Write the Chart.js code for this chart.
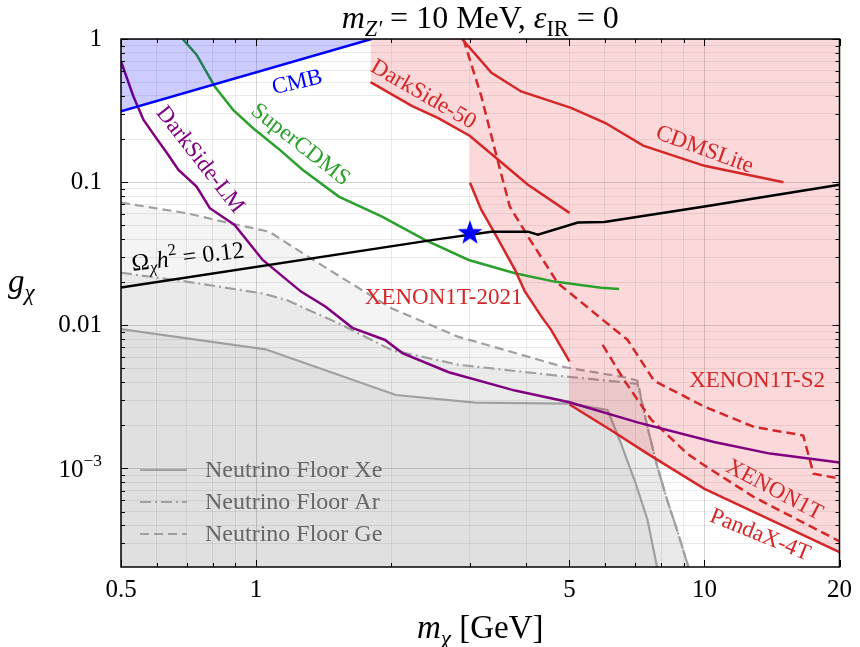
<!DOCTYPE html>
<html>
<head>
<meta charset="utf-8">
<script src="https://cdn.jsdelivr.net/npm/chart.js@4.4.1/dist/chart.umd.min.js"></script>
<style>
  body { margin: 0; background: #fff; }
  #wrap { width: 860px; height: 647px; }
</style>
</head>
<body>
<div id="wrap"><canvas id="chart" width="860" height="647"></canvas></div>
<script>
// curves: [m_chi in GeV, g_chi]
const cmb = [[0.5, 0.312], [1.81, 1]];
const darkSide50 = [[1.8, 0.5], [2.23, 0.34], [2.55, 0.28], [3.0, 0.21], [3.41, 0.15], [4.04, 0.096], [5.0, 0.061]];
const cdmsLite = [[2.88, 1], [3.35, 0.58], [3.9, 0.43], [5.04, 0.33], [6.0, 0.26], [7.3, 0.18], [10, 0.13], [15, 0.1]];
const xenon1t2021 = [[3.0, 0.099], [3.18, 0.064], [3.44, 0.0417], [3.78, 0.0244], [3.97, 0.0174], [4.33, 0.0115], [4.55, 0.0093], [5.0, 0.0056]];
const pandax4t = [[5.0, 0.0028], [6.19, 0.00185], [7.46, 0.00127], [10, 0.00072], [20, 0.00026]];
const xenon1tS2 = [[2.9, 1], [3.18, 0.397], [3.44, 0.151], [3.68, 0.0675], [4.04, 0.0417], [4.71, 0.0197], [6.19, 0.0098], [6.74, 0.0079], [7.72, 0.0041], [10, 0.0027], [12.9, 0.00195], [16.6, 0.0017], [17.5, 0.00092], [20, 0.00085]];
const xenon1t = [[5.93, 0.0073], [6.6, 0.0042], [7.6, 0.0022], [9.15, 0.00127], [10, 0.00105], [12.9, 0.00063], [20, 0.00031]];
const superCDMS = [[0.686, 1], [0.737, 0.777], [0.809, 0.466], [0.889, 0.32], [0.984, 0.239], [1.13, 0.168], [1.27, 0.122], [1.53, 0.0793], [1.91, 0.0575], [2.38, 0.0395], [2.98, 0.0286], [3.78, 0.0231], [4.63, 0.0202], [5.88, 0.0183], [6.45, 0.0179]];
const darkSideLM = [[0.5, 0.697], [0.533, 0.397], [0.561, 0.273], [0.596, 0.208], [0.633, 0.16], [0.671, 0.122], [0.737, 0.0932], [0.789, 0.0658], [0.896, 0.0503], [1.035, 0.0286], [1.26, 0.0172], [1.43, 0.0135], [1.64, 0.0096], [1.94, 0.0079], [2.12, 0.0064], [2.69, 0.0047], [3.78, 0.0035], [5, 0.0029], [7.09, 0.0021], [10.5, 0.00153], [14, 0.00127], [20, 0.0011]];
const relic = [[0.5, 0.0184], [2.55, 0.04], [3.35, 0.0451], [4.04, 0.0451], [4.25, 0.043], [5.22, 0.0522], [5.98, 0.0526], [10, 0.0675], [20, 0.0958]];
const benchmark = [[3.0, 0.044]];
const floorXe = [[0.5, 0.0094], [1.05, 0.0068], [2.05, 0.00326], [3.08, 0.00288], [5, 0.00284], [6.08, 0.00256], [6.51, 0.0015], [7.02, 0.00079], [7.46, 0.00044], [7.85, 0.0002]];
const floorAr = [[0.5, 0.0233], [0.7, 0.0202], [1.035, 0.0167], [1.17, 0.015], [1.53, 0.0103], [2.01, 0.0067], [2.83, 0.0053], [4.87, 0.0044], [6.6, 0.004], [7.09, 0.0039], [7.46, 0.00195], [7.85, 0.00103], [8.26, 0.0006], [8.69, 0.00037], [9.23, 0.0002]];
const floorGe = [[0.5, 0.072], [0.7, 0.0607], [0.873, 0.0517], [1.07, 0.0451], [1.27, 0.0319], [1.585, 0.0207], [2.01, 0.0131], [2.83, 0.0083], [3.18, 0.0075], [4.87, 0.0051], [6.74, 0.0043], [7.09, 0.0041], [7.46, 0.00195], [7.85, 0.00103], [8.26, 0.0006], [8.69, 0.00037], [9.23, 0.0002]];

const xTickLabels = [0.5, 1, 5, 10, 20];
const yTickLabels = [1, 0.1, 0.01, 0.001];

// excluded region (pink) = above DarkSide-50 up to 3 GeV, then XENON1T-2021 and PandaX-4T
const pinkEdge = darkSide50.filter(p => p[0] <= 3).concat(xenon1t2021, pandax4t);

const serif = '"Liberation Serif", "Times New Roman", serif';
const RED = '#d62728', GREEN = '#2ca02c', PURPLE = '#800080', BLUE = '#0000ff', GREY = 'rgb(160,160,160)';

const xy = arr => arr.map(([x, y]) => ({ x, y }));
const near = (a, b) => Math.abs(a / b - 1) < 1e-6;
const isDecade = v => Math.abs(Math.log10(v) - Math.round(Math.log10(v))) < 1e-6;

function logTicks(min, max) {
  const out = [];
  for (let k = Math.floor(Math.log10(min)); k <= Math.ceil(Math.log10(max)); k++) {
    for (let m = 1; m <= 9; m++) {
      const v = Number((m * Math.pow(10, k)).toPrecision(6));
      if (v >= min * 0.9999 && v <= max * 1.0001) out.push(v);
    }
  }
  return out;
}

function starImage(r, color) {
  const c = document.createElement('canvas');
  c.width = c.height = 2 * r + 2;
  const g = c.getContext('2d');
  g.beginPath();
  for (let i = 0; i < 10; i++) {
    const a = -Math.PI / 2 + i * Math.PI / 5;
    const rr = i % 2 ? r * 0.4 : r;
    g.lineTo(r + 1 + rr * Math.cos(a), r + 1 + rr * Math.sin(a));
  }
  g.closePath();
  g.fillStyle = color;
  g.fill();
  return c;
}

// text with italic / sub / superscript runs
function drawRich(g, parts, x, y, size, align) {
  const runs = parts.map(([t, st]) => {
    const italic = st.indexOf('i') === 0;
    const sub = st.indexOf('sub') >= 0, sup = st.indexOf('sup') >= 0;
    const fs = (sub || sup) ? size * 0.7 : size;
    const font = (italic ? 'italic ' : '') + fs + 'px ' + serif;
    g.font = font;
    return { t, font, w: g.measureText(t).width, dy: sub ? size * 0.25 : sup ? -size * 0.38 : 0 };
  });
  const total = runs.reduce((s, r) => s + r.w, 0);
  let cx = align === 'center' ? x - total / 2 : align === 'right' ? x - total : x;
  g.textAlign = 'left';
  runs.forEach(r => { g.font = r.font; g.fillText(r.t, cx, y + r.dy); cx += r.w; });
}

const curveLabels = [
  { parts: [['CMB', '']], x: 1.236, y: 0.495, angle: -13, color: BLUE },
  { parts: [['DarkSide-LM', '']], x: 0.75, y: 0.143, angle: 52, color: PURPLE },
  { parts: [['SuperCDMS', '']], x: 1.255, y: 0.182, angle: 38, color: GREEN },
  { parts: [['DarkSide-50', '']], x: 2.36, y: 0.408, angle: 30, color: RED },
  { parts: [['CDMSLite', '']], x: 10, y: 0.168, angle: 20, color: RED },
  { parts: [['XENON1T-2021', '']], x: 2.62, y: 0.0155, angle: 0, color: RED },
  { parts: [['XENON1T-S2', '']], x: 13.1, y: 0.0041, angle: 0, color: RED },
  { parts: [['XENON1T', '']], x: 14.3, y: 0.000705, angle: 28, color: RED },
  { parts: [['PandaX-4T', '']], x: 13.3, y: 0.000342, angle: 22, color: RED },
  { parts: [['\u03a9', ''], ['\u03c7', 'isub'], ['h', 'i'], ['2', 'sup'], [' = 0.12', '']], x: 0.705, y: 0.0296, angle: -7, color: '#000', size: 24 }
];

const legendRows = ['floorXe', 'floorAr', 'floorGe'];
const legendText = { floorXe: 'Neutrino Floor Xe', floorAr: 'Neutrino Floor Ar', floorGe: 'Neutrino Floor Ge' };

const decor = {
  id: 'decor',
  afterDraw(chart) {
    const g = chart.ctx, a = chart.chartArea;
    const xs = chart.scales.x, ys = chart.scales.y;
    g.save();

    // curve labels
    g.textBaseline = 'middle';
    curveLabels.forEach(l => {
      g.save();
      g.translate(xs.getPixelForValue(l.x), ys.getPixelForValue(l.y));
      g.rotate(l.angle * Math.PI / 180);
      g.fillStyle = l.color;
      drawRich(g, l.parts, 0, 0, l.size || 23, 'center');
      g.restore();
    });

    // legend
    const rowY = [a.bottom - 97, a.bottom - 65, a.bottom - 33];
    legendRows.forEach((key, i) => {
      const ds = chart.data.datasets.find(d => d.label === key);
      g.beginPath();
      g.setLineDash(ds.borderDash || []);
      g.strokeStyle = ds.borderColor;
      g.lineWidth = ds.borderWidth;
      g.moveTo(a.left + 19, rowY[i]);
      g.lineTo(a.left + 66, rowY[i]);
      g.stroke();
      g.setLineDash([]);
      g.fillStyle = '#666';
      g.font = '24px ' + serif;
      g.textAlign = 'left';
      g.fillText(legendText[key], a.left + 84, rowY[i] + 1);
    });

    // frame + inward ticks
    g.strokeStyle = '#000';
    g.lineWidth = 1.5;
    g.strokeRect(a.left, a.top, a.right - a.left, a.bottom - a.top);
    g.lineWidth = 1;
    xs.ticks.forEach(t => {
      const px = Math.round(xs.getPixelForValue(t.value)) + 0.5;
      const len = xTickLabels.some(v => near(v, t.value)) || isDecade(t.value) ? 7 : 4;
      g.beginPath();
      g.moveTo(px, a.bottom); g.lineTo(px, a.bottom - len);
      g.moveTo(px, a.top); g.lineTo(px, a.top + len);
      g.stroke();
    });
    ys.ticks.forEach(t => {
      const py = Math.round(ys.getPixelForValue(t.value)) + 0.5;
      const len = isDecade(t.value) ? 7 : 4;
      g.beginPath();
      g.moveTo(a.left, py); g.lineTo(a.left + len, py);
      g.moveTo(a.right, py); g.lineTo(a.right - len, py);
      g.stroke();
    });

    // 10^-3 tick label
    g.fillStyle = '#000';
    g.textBaseline = 'middle';
    drawRich(g, [['10', ''], ['\u22123', 'sup']], a.left - 19, ys.getPixelForValue(0.001) + 2, 25, 'right');

    // titles
    g.textBaseline = 'alphabetic';
    drawRich(g, [['m', 'i'], ['Z\u2032', 'isub'], [' = 10 MeV, ', ''], ['\u03b5', 'i'], ['IR', 'sub'], [' = 0', '']], (a.left + a.right) / 2, 28, 32, 'center');
    drawRich(g, [['m', 'i'], ['\u03c7', 'isub'], [' [GeV]', '']], (a.left + a.right) / 2, 638, 33, 'center');
    drawRich(g, [['g', 'i'], ['\u03c7', 'isub']], 8, 292, 33, 'left');
    g.restore();
  }
};

const lineSet = (label, data, color, extra) => Object.assign({
  label, data: xy(data), borderColor: color, borderWidth: 2.5, fill: false, order: 3
}, extra || {});

new Chart(document.getElementById('chart'), {
  type: 'line',
  data: {
    datasets: [
      { label: 'benchmark', data: xy(benchmark), showLine: false, pointStyle: starImage(13, BLUE), pointRadius: 13, order: 0 },
      lineSet('relic', relic, '#000', { order: 1 }),
      lineSet('CMB', cmb, BLUE, { fill: 'end', backgroundColor: 'rgba(0,0,255,0.2)', order: 2 }),
      lineSet('DarkSide-50', darkSide50, RED),
      lineSet('CDMSLite', cdmsLite, RED),
      lineSet('XENON1T-2021', xenon1t2021, RED),
      lineSet('PandaX-4T', pandax4t, RED),
      lineSet('XENON1T-S2', xenon1tS2, RED, { borderDash: [9, 5] }),
      lineSet('XENON1T', xenon1t, RED, { borderDash: [9, 5] }),
      lineSet('SuperCDMS', superCDMS, GREEN),
      lineSet('DarkSide-LM', darkSideLM, PURPLE, { order: 2 }),
      { label: 'excluded', data: xy(pinkEdge), borderColor: 'rgba(0,0,0,0)', borderWidth: 0, fill: 'end', backgroundColor: 'rgba(230,30,40,0.17)', order: 6 },
      lineSet('floorXe', floorXe, GREY, { borderWidth: 2.2, fill: 'start', backgroundColor: 'rgba(0,0,0,0.045)', order: 8 }),
      lineSet('floorAr', floorAr, GREY, { borderWidth: 2.2, fill: 'start', backgroundColor: 'rgba(0,0,0,0.045)', borderDash: [11, 4, 2, 4], order: 8 }),
      lineSet('floorGe', floorGe, GREY, { borderWidth: 2.2, fill: 'start', backgroundColor: 'rgba(0,0,0,0.045)', borderDash: [9, 5], order: 8 })
    ]
  },
  options: {
    responsive: false,
    animation: false,
    layout: { padding: { top: 39, right: 17, left: 0, bottom: 0 } },
    elements: { point: { radius: 0, hoverRadius: 0 }, line: { tension: 0 } },
    plugins: { legend: { display: false }, tooltip: { enabled: false } },
    scales: {
      x: {
        type: 'logarithmic', min: 0.5, max: 20,
        afterBuildTicks: s => { s.ticks = logTicks(s.min, s.max).filter(v => v <= 10 || v === 20).map(v => ({ value: v })); },
        afterFit: s => { s.height = 80; },
        grid: { drawTicks: false, color: c => (c.tick && isDecade(c.tick.value)) ? 'rgba(0,0,0,0.17)' : 'rgba(0,0,0,0.08)', lineWidth: 1 },
        border: { display: false },
        ticks: {
          autoSkip: false, maxRotation: 0, padding: 8, color: '#000',
          font: { family: serif, size: 25 },
          callback: v => xTickLabels.some(t => near(t, v)) ? String(v) : ''
        }
      },
      y: {
        type: 'logarithmic', min: 2.05e-4, max: 1,
        afterBuildTicks: s => { s.ticks = logTicks(s.min, s.max).map(v => ({ value: v })); },
        afterFit: s => { s.width = 121; },
        grid: { drawTicks: false, color: c => (c.tick && isDecade(c.tick.value)) ? 'rgba(0,0,0,0.17)' : 'rgba(0,0,0,0.08)', lineWidth: 1 },
        border: { display: false },
        ticks: {
          autoSkip: false, padding: 19, color: '#000',
          font: { family: serif, size: 25 },
          callback: v => yTickLabels.some(t => near(t, v)) && !near(v, 0.001) ? String(v) : ''
        }
      }
    }
  },
  plugins: [decor]
});
</script>
</body>
</html>
